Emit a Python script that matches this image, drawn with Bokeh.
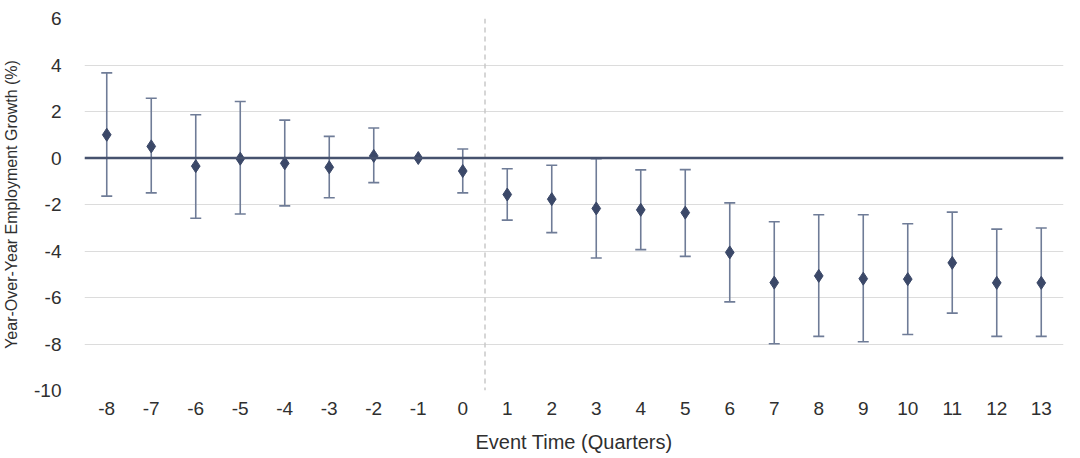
from bokeh.plotting import figure
from bokeh.models import (ColumnDataSource, Whisker, Span, Range1d, FixedTicker, TeeHead,
                          CustomJSTickFormatter)
from bokeh.embed import file_html
from bokeh.resources import INLINE

# Data
quarters = [-8, -7, -6, -5, -4, -3, -2, -1, 0, 1, 2, 3, 4, 5, 6, 7, 8, 9, 10, 11, 12, 13]
estimate = [1.0, 0.5, -0.35, -0.03, -0.23, -0.4, 0.09, 0.0, -0.56, -1.57, -1.77, -2.17,
            -2.23, -2.35, -4.06, -5.36, -5.07, -5.19, -5.21, -4.51, -5.37, -5.37]
upper = [3.66, 2.57, 1.86, 2.43, 1.63, 0.93, 1.29, 0.0, 0.39, -0.46, -0.31, -0.03,
         -0.51, -0.5, -1.93, -2.74, -2.44, -2.44, -2.83, -2.33, -3.06, -3.01]
lower = [-1.64, -1.5, -2.59, -2.41, -2.06, -1.71, -1.06, 0.0, -1.5, -2.67, -3.21, -4.3,
         -3.94, -4.23, -6.19, -7.99, -7.67, -7.9, -7.59, -6.67, -7.67, -7.67]
y_ticks = [-10, -8, -6, -4, -2, 0, 2, 4, 6]

FONT = "Liberation Sans"
MARK = "#3b4868"
BAR = "#6f7c97"
TXT = "#2f2f2f"

src = ColumnDataSource(dict(x=quarters, y=estimate, up=upper, lo=lower))

p = figure(width=1064, height=455, output_backend="svg", toolbar_location=None,
           x_range=Range1d(-8.5, 13.5), y_range=Range1d(-10, 6),
           min_border_left=77, min_border_right=1, min_border_top=18, min_border_bottom=64)
p.outline_line_color = None
p.background_fill_color = "white"

fmt = "return String(tick);"
p.xaxis.ticker = FixedTicker(ticks=quarters)
p.yaxis.ticker = FixedTicker(ticks=y_ticks)
p.xaxis.formatter = CustomJSTickFormatter(code=fmt)
p.yaxis.formatter = CustomJSTickFormatter(code=fmt)
for ax in (p.xaxis[0], p.yaxis[0]):
    ax.axis_line_color = None
    ax.major_tick_line_color = None
    ax.minor_tick_line_color = None
    ax.major_label_text_font = FONT
    ax.major_label_text_font_size = "19px"
    ax.major_label_text_color = TXT
    ax.axis_label_text_font = FONT
    ax.axis_label_text_font_style = "normal"
    ax.axis_label_text_color = TXT
p.xaxis.axis_label = "Event Time (Quarters)"
p.yaxis.axis_label = "Year-Over-Year Employment Growth (%)"
p.xaxis.axis_label_text_font_size = "20px"
p.yaxis.axis_label_text_font_size = "16px"
p.xaxis.major_label_standoff = 5
p.xaxis.axis_label_standoff = 13
p.yaxis.major_label_standoff = 17
p.yaxis.axis_label_standoff = 11

p.xgrid.grid_line_color = None
p.ygrid.grid_line_color = "#dcdcdc"
p.ygrid.grid_line_width = 1.2

# Reference lines
p.add_layout(Span(location=0.5, dimension="height", line_color="#c8c8c8",
                  line_width=1.5, line_dash="5 4"))
p.add_layout(Span(location=0, dimension="width", line_color="#46526e", line_width=2.5))

# Error bars
w = Whisker(source=src, base="x", upper="up", lower="lo", line_color=BAR, line_width=1.6,
            upper_head=TeeHead(size=11, line_color=BAR, line_width=1.6),
            lower_head=TeeHead(size=11, line_color=BAR, line_width=1.6))
p.add_layout(w)

p.scatter("x", "y", source=src, marker="diamond", size=13, fill_color=MARK,
          line_color=MARK)

open("out.html", "w").write(file_html(p, INLINE))
